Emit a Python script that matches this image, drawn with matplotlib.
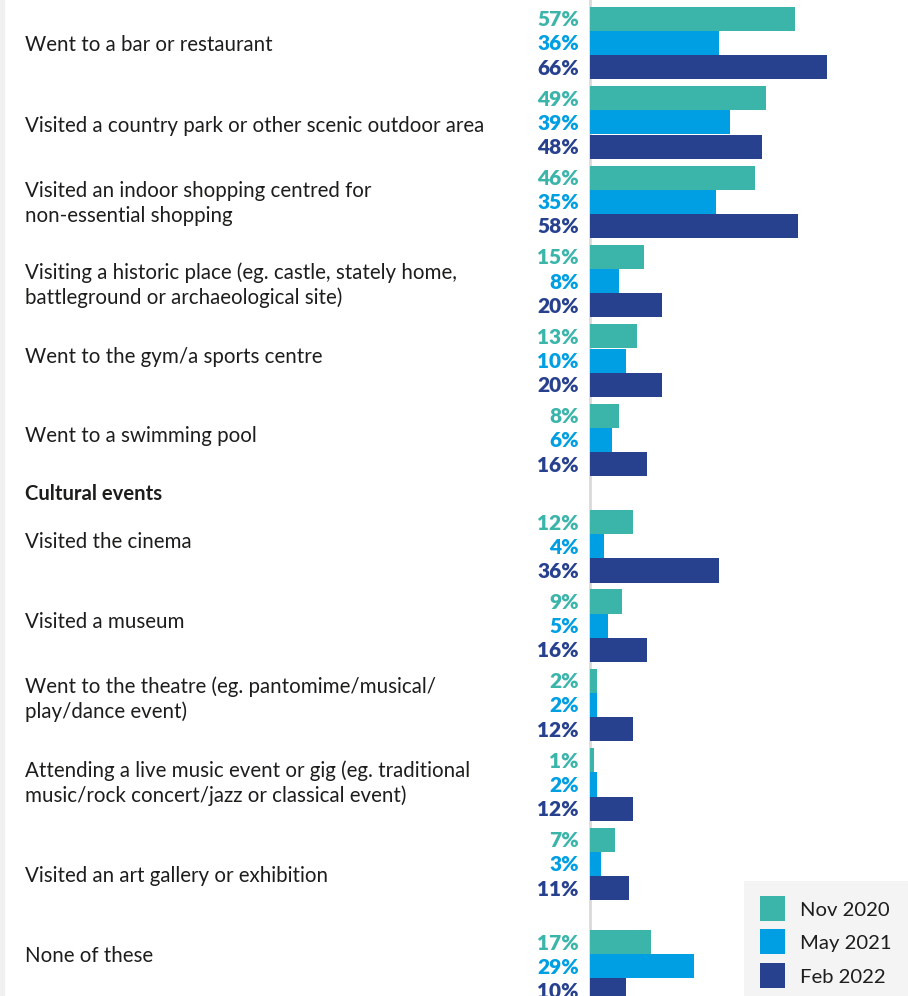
import matplotlib.pyplot as plt
from matplotlib.patches import Rectangle

plt.rcParams['font.family'] = ['Lato', 'DejaVu Sans']

categories = [
    "Went to a bar or restaurant",
    "Visited a country park or other scenic outdoor area",
    "Visited an indoor shopping centred for\nnon-essential shopping",
    "Visiting a historic place (eg. castle, stately home,\nbattleground or archaeological site)",
    "Went to the gym/a sports centre",
    "Went to a swimming pool",
    "Visited the cinema",
    "Visited a museum",
    "Went to the theatre (eg. pantomime/musical/\nplay/dance event)",
    "Attending a live music event or gig (eg. traditional\nmusic/rock concert/jazz or classical event)",
    "Visited an art gallery or exhibition",
    "None of these",
]
section_title = "Cultural events"

nov_2020 = [57, 49, 46, 15, 13, 8, 12, 9, 2, 1, 7, 17]
may_2021 = [36, 39, 35, 8, 10, 6, 4, 5, 2, 2, 3, 29]
feb_2022 = [66, 48, 58, 20, 20, 16, 36, 16, 12, 12, 11, 10]
series_names = ["Nov 2020", "May 2021", "Feb 2022"]
colors = ["#3bb5aa", "#009fe3", "#27418f"]

# layout in pixels, measured from the top-left corner
W, H = 908, 996
x_zero = 590
px_per_pct = 3.59
first_top = 6.7
group_step = 79.4
bar_h = 24.2
extra_gap = {6: 26.9, 11: 23.0}
label_nudge = [0.5, 1.8, 0, 3, -5.5, -5.7, -5.5, -5.5, -7, -2.3, 10.8, -11.5]
line_gap = 25
text_color = "#1d1d1b"

tops = []
y = first_top
for i in range(len(categories)):
    y += extra_gap.get(i, 0)
    tops.append(y)
    y += group_step

fig = plt.figure(figsize=(W / 100, H / 100), dpi=100)
ax = fig.add_axes([0, 0, 1, 1])
ax.set_xlim(-x_zero / px_per_pct, (W - x_zero) / px_per_pct)
ax.set_ylim(H, 0)
ax.axis('off')

# thin grey strip down the left edge
fig.add_artist(Rectangle((0, 0), 4 / W, 1, transform=fig.transFigure,
                         color="#f0f0f0", zorder=0))

ax.axvline(0, color="#d9d9d9", lw=2, zorder=1)

trans = ax.get_yaxis_transform()
for k, (vals, c) in enumerate(zip([nov_2020, may_2021, feb_2022], colors)):
    yc = [t + bar_h * (k + 0.5) for t in tops]
    ax.barh(yc, vals, height=bar_h, left=0, color=c, linewidth=0, zorder=2)
    for yy, v in zip(yc, vals):
        ax.text((x_zero - 11) / W, yy + 7.4, f"{v}%", transform=trans,
                ha='right', va='baseline', fontsize=15, fontweight='heavy', color=c)

for i, (cat, t) in enumerate(zip(categories, tops)):
    lines = cat.split("\n")
    mid = t + 1.5 * bar_h + label_nudge[i]
    first = mid - (len(lines) - 1) * line_gap / 2
    for j, line in enumerate(lines):
        ax.text(25 / W, first + j * line_gap + 7.4, line, transform=trans,
                ha='left', va='baseline', fontsize=14.8, color=text_color)

ax.text(25 / W, 499.5, section_title, transform=trans, ha='left', va='baseline',
        fontsize=14.6, fontweight='bold', color=text_color)

# legend panel, bottom right
leg_top = 880.7
lax = fig.add_axes([744 / W, 0, (W - 744) / W, (H - leg_top) / H])
lax.set_xlim(744, W)
lax.set_ylim(H, leg_top)
lax.set_facecolor("#f4f4f4")
for s in lax.spines.values():
    s.set_visible(False)
lax.set_xticks([])
lax.set_yticks([])
for k, (name, c) in enumerate(zip(series_names, colors)):
    top = 896 + k * 33.5
    lax.add_patch(Rectangle((760, top), 25, 25, color=c, linewidth=0))
    lax.text(800, top + 12.5 + 7.3, name, ha='left', va='baseline',
             fontsize=14.6, color=text_color)

fig.savefig("out.png", dpi=100)
